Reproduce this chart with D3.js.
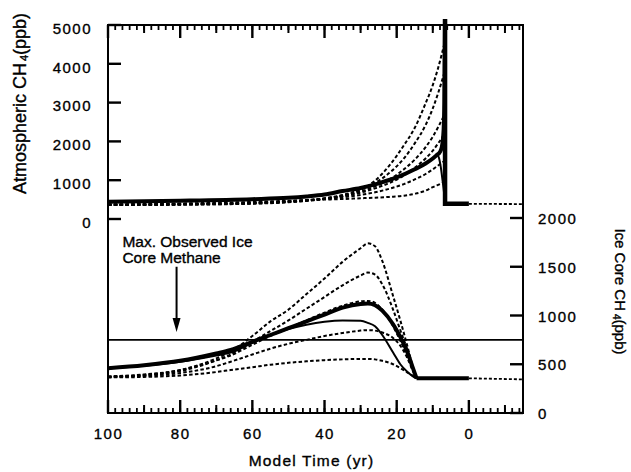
<!DOCTYPE html>
<html>
<head>
<meta charset="utf-8">
<script src="https://cdn.jsdelivr.net/npm/d3@7"></script>
<style>
  body { margin: 0; background: #fff; }
  svg { display: block; font-family: "Liberation Sans", Arial, Helvetica, sans-serif; }
  svg text { fill: #000; stroke: #000; stroke-width: 0.35px; }
  .tick text { font-size: 15px; letter-spacing: 1.5px; }
</style>
</head>
<body>
<svg id="chart" width="631" height="472"></svg>
<script>
// ---- data ----
// upper panel: atmospheric CH4 (ppb), model time in years
const atmYears = [100, 80, 60, 50, 40, 35, 30, 26, 22, 18, 15, 12, 10, 8.5, 6.7];
const atmDash1 = [360, 370, 395, 430, 520, 600, 750, 990, 1380, 1900, 2350, 2980, 3450, 3900, 4550];
const atmDash2 = [362, 372, 400, 440, 530, 620, 760, 930, 1190, 1560, 1950, 2420, 2850, 3250, 3800];
const atmDash3 = [365, 378, 410, 450, 530, 600, 710, 840, 1020, 1280, 1530, 1850, 2120, 2370, 2700];
const atmDash4 = [368, 382, 415, 455, 530, 590, 680, 790, 930, 1120, 1320, 1560, 1760, 1950, 2200];
const atmDash5 = [372, 388, 420, 455, 515, 560, 620, 690, 780, 900, 1020, 1160, 1280, 1380, 1500];
const atmDash6 = [378, 400, 440, 470, 500, 515, 535, 550, 570, 600, 650, 730, 820, 880, 950];

const atmThickYears = [100, 80, 60, 50, 45, 40, 35, 30, 25, 20, 15, 12, 10, 9, 8, 7.5, 7, 6.8, 6.62];
const atmThick = [445, 470, 510, 545, 580, 630, 720, 800, 920, 1070, 1280, 1430, 1560, 1640, 1730, 1850, 2300, 3000, 5200];
const atmThinYears = [10, 9, 8.7, 8.3, 7.8, 7.3, 6.9, 6.6];
const atmThin = [1560, 1640, 1650, 1580, 1350, 1000, 700, 430];
const atmSpikeYear = 6.6;
const atmBase = 390;
const atmAfterYears = [0, -15];
const atmAfter = [390, 385];

// lower panel: ice core CH4 (ppb)
const iceYears = [100, 90, 80, 70, 66, 60, 55, 50, 45, 40, 35, 30, 28, 26, 24, 21, 19, 17, 15.5, 14.5];
const iceDash1 = [372, 390, 440, 560, 630, 790, 940, 1060, 1220, 1380, 1550, 1690, 1740, 1710, 1560, 1200, 950, 680, 470, 356];
const iceDash2 = [372, 388, 430, 540, 600, 730, 840, 950, 1070, 1190, 1310, 1410, 1440, 1420, 1320, 1060, 850, 640, 460, 356];
const iceDash3 = [375, 395, 440, 540, 590, 700, 790, 870, 950, 1030, 1100, 1145, 1150, 1130, 1060, 890, 740, 580, 440, 356];
const iceDash4 = [370, 380, 410, 480, 526, 600, 660, 710, 750, 790, 820, 845, 850, 845, 825, 770, 690, 560, 430, 356];
const iceDash5 = [365, 370, 385, 420, 441, 470, 495, 515, 530, 542, 550, 555, 555, 550, 535, 500, 460, 415, 380, 356];
const iceThick = [460, 490, 535, 610, 646, 730, 800, 870, 940, 1010, 1080, 1118, 1122, 1105, 1050, 910, 780, 620, 460, 356];
const iceThin = [460, 485, 525, 590, 620, 720, 800, 860, 905, 935, 948, 945, 925, 890, 800, 620, 500, 420, 375, 356];
const iceBaseYears = [14.5, 0];
const iceBase = [356, 356];
const iceAfterYears = [0, -15];
const iceAfter = [356, 345];

const maxObserved = 750;
const arrowYear = 81, arrowFrom = 1500, arrowTo = 830;
const noteLines = ["Max. Observed Ice", "Core Methane"];

const atmTicks = [0, 1000, 2000, 3000, 4000, 5000];
const iceTicks = [0, 500, 1000, 1500, 2000];
const timeTicks = [100, 80, 60, 40, 20, 0];
const midYears = [90, 70, 50, 30, 10, -10];
const minorYears = d3.range(100, -15, -2);

// ---- scales ----
const svg = d3.select("#chart");
const boxLeft = 108, boxRight = 523, boxTop = 25, boxBottom = 413;

const x = d3.scaleLinear().domain([100, -15]).range([boxLeft, boxRight]);
const yTop = d3.scaleLinear().domain([0, 5000]).range([219, boxTop]);
const yBot = d3.scaleLinear().domain([0, 2000]).range([boxBottom, 218]);

const zip = (xs, ys) => xs.map((v, i) => [v, ys[i]]);

svg.append("defs").append("clipPath").attr("id", "clip")
    .append("rect")
    .attr("x", boxLeft).attr("y", boxTop - 6)
    .attr("width", boxRight - boxLeft).attr("height", boxBottom - boxTop + 6);

const plot = svg.append("g").attr("clip-path", "url(#clip)");

const lineTop = d3.line().x(d => x(d[0])).y(d => yTop(d[1])).curve(d3.curveMonotoneX);
const lineBot = d3.line().x(d => x(d[0])).y(d => yBot(d[1])).curve(d3.curveMonotoneX);
const linTop = d3.line().x(d => x(d[0])).y(d => yTop(d[1]));
const linBot = d3.line().x(d => x(d[0])).y(d => yBot(d[1]));

function draw(gen, data, width, dash) {
    plot.append("path")
        .attr("d", gen(data))
        .attr("fill", "none")
        .attr("stroke", "#000")
        .attr("stroke-width", width)
        .attr("stroke-dasharray", dash || null);
}

const dash = "3.5,2.3";

// upper panel
[atmDash1, atmDash2, atmDash3, atmDash4, atmDash5, atmDash6].forEach(s => {
    draw(lineTop, zip(atmYears, s), 2, dash);
});
draw(lineTop, zip(atmThinYears, atmThin), 2);
draw(lineTop, zip(atmThickYears, atmThick), 4);
draw(linTop, [[atmSpikeYear, 5200], [atmSpikeYear, atmBase], [0, atmBase]], 4.5);
draw(linTop, zip(atmAfterYears, atmAfter), 1.8, "3,2");

// lower panel
draw(linBot, [[100, maxObserved], [-15, maxObserved]], 1.6);
[iceDash1, iceDash2, iceDash3, iceDash4, iceDash5].forEach(s => {
    draw(lineBot, zip(iceYears, s), 2, dash);
});
draw(lineBot, zip(iceYears, iceThin), 2);
draw(lineBot, zip(iceYears, iceThick), 4);
draw(linBot, zip(iceBaseYears, iceBase), 4);
draw(linBot, zip(iceAfterYears, iceAfter), 1.8, "3,2");

// ---- axis labels (d3 axes, tick marks drawn below) ----
const gb = svg.append("g").attr("transform", `translate(0,${boxBottom})`)
    .call(d3.axisBottom(x).tickValues(timeTicks).tickSize(0).tickPadding(15).tickFormat(d3.format("d")));
gb.selectAll("text").attr("dy", "0.75em");

const gl = svg.append("g").attr("transform", `translate(${boxLeft},0)`)
    .call(d3.axisLeft(yTop).tickValues(atmTicks).tickSize(0).tickPadding(16).tickFormat(d3.format("d")));
gl.selectAll("text").attr("dy", "0.55em");

const gr = svg.append("g").attr("transform", `translate(${boxRight},0)`)
    .call(d3.axisRight(yBot).tickValues(iceTicks).tickSize(0).tickPadding(15).tickFormat(d3.format("d")));
gr.selectAll("text").attr("dy", "0.38em");

[gb, gl, gr].forEach(g => { g.select(".domain").remove(); g.selectAll(".tick line").remove(); });

// frame
svg.append("rect")
    .attr("x", boxLeft).attr("y", boxTop)
    .attr("width", boxRight - boxLeft).attr("height", boxBottom - boxTop)
    .attr("fill", "none").attr("stroke", "#000").attr("stroke-width", 2);

// tick marks, pointing into the box
const marks = svg.append("g");
function mark(x1, y1, x2, y2, width) {
    marks.append("line")
        .attr("x1", x1).attr("y1", y1)
        .attr("x2", x2).attr("y2", y2)
        .attr("stroke", "#000")
        .attr("stroke-width", width);
}
function timeMarks(values, len, width) {
    values.forEach(v => {
        mark(x(v), boxTop, x(v), boxTop + len, width);
        mark(x(v), boxBottom, x(v), boxBottom - len, width);
    });
}
timeMarks(minorYears, 5, 1.8);
timeMarks(midYears, 8, 2);
timeMarks(timeTicks, 13, 2.4);
atmTicks.forEach(v => mark(boxLeft, yTop(v), boxLeft + 13, yTop(v), 2.4));
iceTicks.forEach(v => mark(boxRight - 13, yBot(v), boxRight, yBot(v), 2.4));

// ---- annotation ----
svg.append("line")
    .attr("x1", x(arrowYear)).attr("x2", x(arrowYear))
    .attr("y1", yBot(arrowFrom)).attr("y2", yBot(arrowTo) - 12)
    .attr("stroke", "#000").attr("stroke-width", 2);
svg.append("path")
    .attr("d", `M${x(arrowYear) - 4},${yBot(arrowTo) - 14}L${x(arrowYear) + 4},${yBot(arrowTo) - 14}L${x(arrowYear)},${yBot(arrowTo)}Z`)
    .attr("fill", "#000");
svg.append("g").selectAll("text")
    .data(noteLines)
    .join("text")
    .attr("x", x(96))
    .attr("y", (d, i) => yBot(1700) + i * 15.5)
    .attr("font-size", 15.5)
    .text(d => d);

// ---- titles ----
svg.append("text")
    .attr("x", (boxLeft + boxRight) / 2 - 4)
    .attr("y", 466)
    .attr("text-anchor", "middle")
    .attr("font-size", 15.5)
    .attr("letter-spacing", 1.2)
    .text("Model Time (yr)");

const tl = svg.append("text")
    .attr("transform", "translate(26,103.5) rotate(-90)")
    .attr("text-anchor", "middle")
    .attr("font-size", 18);
tl.append("tspan").text("Atmospheric CH");
tl.append("tspan").attr("font-size", 11).attr("dy", 2).attr("dx", 2).text("4");
tl.append("tspan").attr("dy", -2).text("(ppb)");

const tr = svg.append("text")
    .attr("transform", "translate(615,291.5) rotate(90)")
    .attr("text-anchor", "middle")
    .attr("font-size", 15);
tr.append("tspan").text("Ice Core CH");
tr.append("tspan").attr("font-size", 10).attr("dy", 2).attr("dx", 3).text("4");
tr.append("tspan").attr("dy", -2).text("(ppb)");
</script>
</body>
</html>
